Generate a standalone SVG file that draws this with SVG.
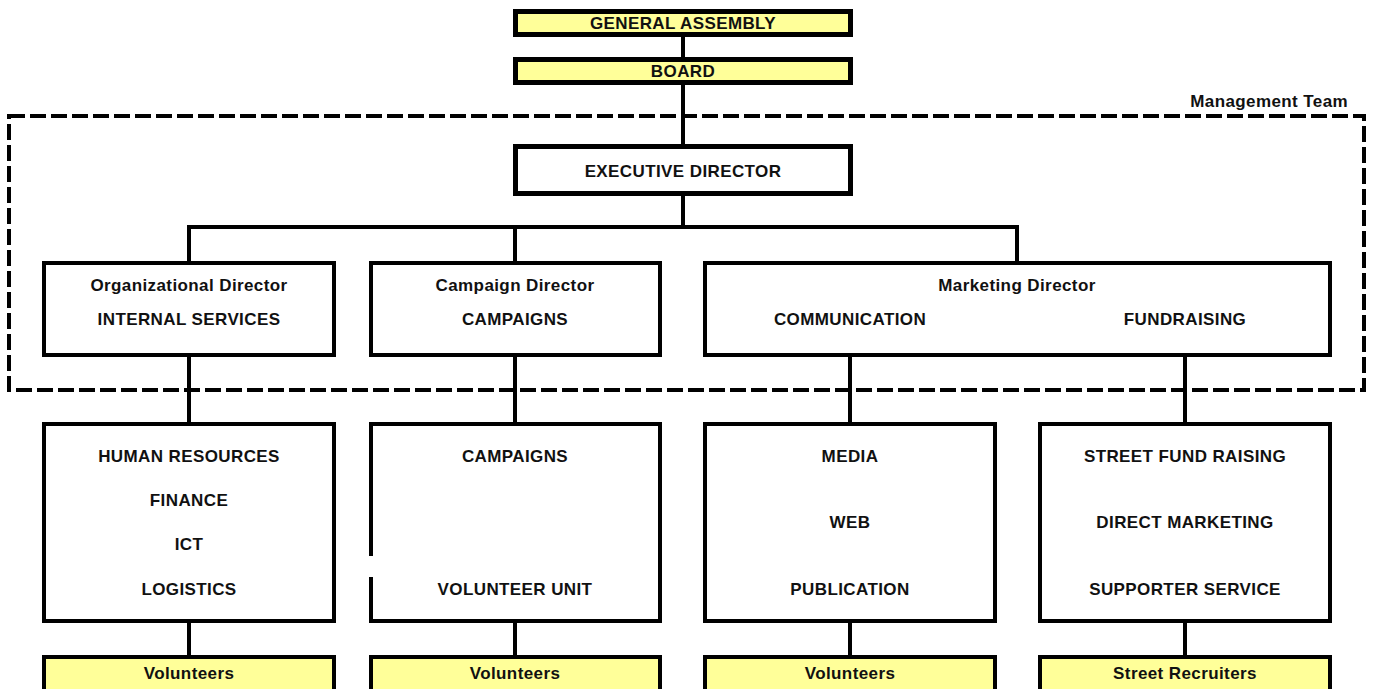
<svg xmlns="http://www.w3.org/2000/svg" width="1373" height="689" viewBox="0 0 1373 689">
<style>
text{font-family:"Liberation Sans",Arial,sans-serif;font-weight:bold;font-size:17px;letter-spacing:0.4px;fill:#111;text-anchor:middle}
.top{fill:#ffff99;stroke:#000;stroke-width:5}
.exec{fill:#fff;stroke:#000;stroke-width:5}
.box{fill:#fff;stroke:#000;stroke-width:4}
.yel{fill:#ffff99;stroke:#000;stroke-width:4}
.ln{stroke:#000;stroke-width:4;fill:none}
.dash{fill:none;stroke:#000;stroke-width:4;stroke-dasharray:16 5}
</style>
<rect width="1373" height="689" fill="#fff"/>
<g id="connectors">
<line class="ln" x1="683" y1="37" x2="683" y2="57"/>
<line class="ln" x1="683" y1="85" x2="683" y2="144"/>
<line class="ln" x1="683" y1="196" x2="683" y2="227"/>
<line class="ln" x1="187" y1="227" x2="1019" y2="227"/>
<line class="ln" x1="189" y1="227" x2="189" y2="263"/>
<line class="ln" x1="515" y1="227" x2="515" y2="263"/>
<line class="ln" x1="1017" y1="227" x2="1017" y2="263"/>
<line class="ln" x1="189" y1="355" x2="189" y2="424"/>
<line class="ln" x1="515" y1="355" x2="515" y2="424"/>
<line class="ln" x1="850" y1="355" x2="850" y2="424"/>
<line class="ln" x1="1185" y1="355" x2="1185" y2="424"/>
<line class="ln" x1="189" y1="621" x2="189" y2="657"/>
<line class="ln" x1="515" y1="621" x2="515" y2="657"/>
<line class="ln" x1="850" y1="621" x2="850" y2="657"/>
<line class="ln" x1="1185" y1="621" x2="1185" y2="657"/>
</g>
<g id="management-team">
<rect class="dash" x="9" y="116" width="1355" height="274"/>
<text x="1348" y="107" style="text-anchor:end">Management Team</text>
</g>
<g id="general-assembly">
<rect class="top" x="515.5" y="11.5" width="335" height="23"/>
<text x="683" y="29">GENERAL ASSEMBLY</text>
</g>
<g id="board">
<rect class="top" x="515.5" y="59.5" width="335" height="23"/>
<text x="683" y="77">BOARD</text>
</g>
<g id="executive-director">
<rect class="exec" x="515.5" y="146.5" width="335" height="47"/>
<text x="683" y="177">EXECUTIVE DIRECTOR</text>
</g>
<g id="organizational-director">
<rect class="box" x="44" y="263" width="290" height="92"/>
<text x="189" y="291">Organizational Director</text>
<text x="189" y="325">INTERNAL SERVICES</text>
</g>
<g id="campaign-director">
<rect class="box" x="371" y="263" width="289" height="92"/>
<text x="515" y="291">Campaign Director</text>
<text x="515" y="325">CAMPAIGNS</text>
</g>
<g id="marketing-director">
<rect class="box" x="705" y="263" width="625" height="92"/>
<text x="1017" y="291">Marketing Director</text>
<text x="850" y="325">COMMUNICATION</text>
<text x="1185" y="325">FUNDRAISING</text>
</g>
<g id="internal-services-units">
<rect class="box" x="44" y="424" width="290" height="197"/>
<text x="189" y="462">HUMAN RESOURCES</text>
<text x="189" y="506">FINANCE</text>
<text x="189" y="550">ICT</text>
<text x="189" y="595">LOGISTICS</text>
</g>
<g id="campaigns-units">
<path class="ln" d="M371 556 V424 H660 V621 H371 V577"/>
<text x="515" y="462">CAMPAIGNS</text>
<text x="515" y="595">VOLUNTEER UNIT</text>
</g>
<g id="communication-units">
<rect class="box" x="705" y="424" width="290" height="197"/>
<text x="850" y="462">MEDIA</text>
<text x="850" y="528">WEB</text>
<text x="850" y="595">PUBLICATION</text>
</g>
<g id="fundraising-units">
<rect class="box" x="1040" y="424" width="290" height="197"/>
<text x="1185" y="462">STREET FUND RAISING</text>
<text x="1185" y="528">DIRECT MARKETING</text>
<text x="1185" y="595">SUPPORTER SERVICE</text>
</g>
<g id="volunteers-1">
<rect class="yel" x="44" y="657" width="290" height="40"/>
<text x="189" y="679">Volunteers</text>
</g>
<g id="volunteers-2">
<rect class="yel" x="371" y="657" width="289" height="40"/>
<text x="515" y="679">Volunteers</text>
</g>
<g id="volunteers-3">
<rect class="yel" x="705" y="657" width="290" height="40"/>
<text x="850" y="679">Volunteers</text>
</g>
<g id="street-recruiters">
<rect class="yel" x="1040" y="657" width="290" height="40"/>
<text x="1185" y="679">Street Recruiters</text>
</g>
</svg>
